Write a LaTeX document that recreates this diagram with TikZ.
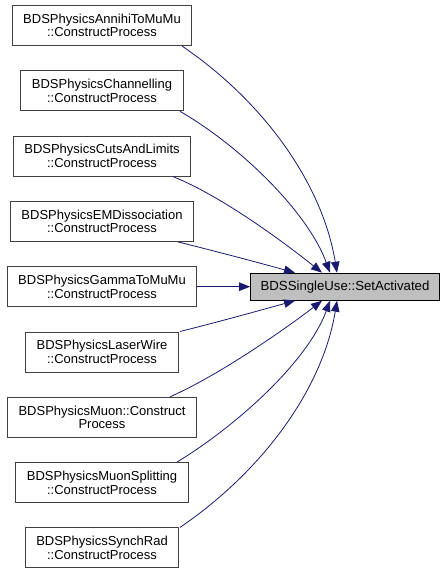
\documentclass[tikz,border=0pt]{standalone}
\usepackage{fontspec}
\setmainfont{Liberation Sans}
\usetikzlibrary{arrows.meta,positioning}

\definecolor{edgeblue}{HTML}{191970}
\definecolor{boxgray}{HTML}{404040}
\definecolor{fillgray}{HTML}{BFBFBF}

\begin{document}
\begin{tikzpicture}[node distance = 65.3pt, on grid,
        caller/.style = {draw = boxgray, line width = 1pt, fill = white, align = center,
                         minimum height = 40pt, inner xsep = 11pt, inner ysep = 2pt,
                         font = \fontsize{13}{13.5}\selectfont},
        callee/.style = {draw = black, line width = 1pt, fill = fillgray, align = center,
                         minimum height = 27pt, inner xsep = 10pt,
                         font = \fontsize{13.2}{13.5}\selectfont},
        call/.style = {draw = edgeblue, line width = 0.8pt,
                       -{Triangle[length = 11pt, width = 8.5pt]}}]
                \useasboundingbox (0,0) rectangle (447pt,-575pt);

                \node[caller] at (102pt,-25.5pt)     (annihi)  {BDSPhysicsAnnihiToMuMu\\::ConstructProcess};
                \node[caller, below = of annihi]     (channel) {BDSPhysicsChannelling\\::ConstructProcess};
                \node[caller, below = of channel]    (cuts)    {BDSPhysicsCutsAndLimits\\::ConstructProcess};
                \node[caller, below = of cuts]       (emdis)   {BDSPhysicsEMDissociation\\::ConstructProcess};
                \node[caller, below = of emdis]      (gamma)   {BDSPhysicsGammaToMuMu\\::ConstructProcess};
                \node[caller, below = of gamma]      (laser)   {BDSPhysicsLaserWire\\::ConstructProcess};
                \node[caller, below = of laser]      (muon)    {BDSPhysicsMuon::Construct\\Process};
                \node[caller, below = of muon]       (split)   {BDSPhysicsMuonSplitting\\::ConstructProcess};
                \node[caller, below = of split]      (synch)   {BDSPhysicsSynchRad\\::ConstructProcess};

                \node[callee, right = 243pt of gamma] (setact) {BDSSingleUse::SetActivated};

                % callers above the target
                \draw[call] ([xshift=80pt]annihi.south)  .. controls +(85pt,-58pt) and +(-14pt,86pt) .. ([xshift=-8pt]setact.north);
                \draw[call] ([xshift=78pt]channel.south) .. controls +(62pt,-36pt) and +(-22pt,60pt) .. ([xshift=-15pt]setact.north);
                \draw[call] ([xshift=71pt]cuts.south)    .. controls +(50pt,-20pt) and +(-35pt,28pt) .. ([xshift=-23pt]setact.north);
                \draw[call] ([xshift=76pt]emdis.south)   .. controls +(40pt,-10pt) and +(-40pt,11pt) .. ([xshift=-50pt]setact.north);
                \draw[call] (gamma) -- (setact);
                % callers below the target
                \draw[call] ([xshift=78pt]laser.north)   .. controls +(40pt,10pt) and +(-40pt,-11pt) .. ([xshift=-50pt]setact.south);
                \draw[call] ([xshift=68pt]muon.north)    .. controls +(50pt,22pt) and +(-35pt,-27pt) .. ([xshift=-23pt]setact.south);
                \draw[call] ([xshift=75pt]split.north)   .. controls +(62pt,38pt) and +(-22pt,-60pt) .. ([xshift=-15pt]setact.south);
                \draw[call] ([xshift=78pt]synch.north)   .. controls +(85pt,58pt) and +(-14pt,-86pt) .. ([xshift=-8pt]setact.south);
\end{tikzpicture}
\end{document}
